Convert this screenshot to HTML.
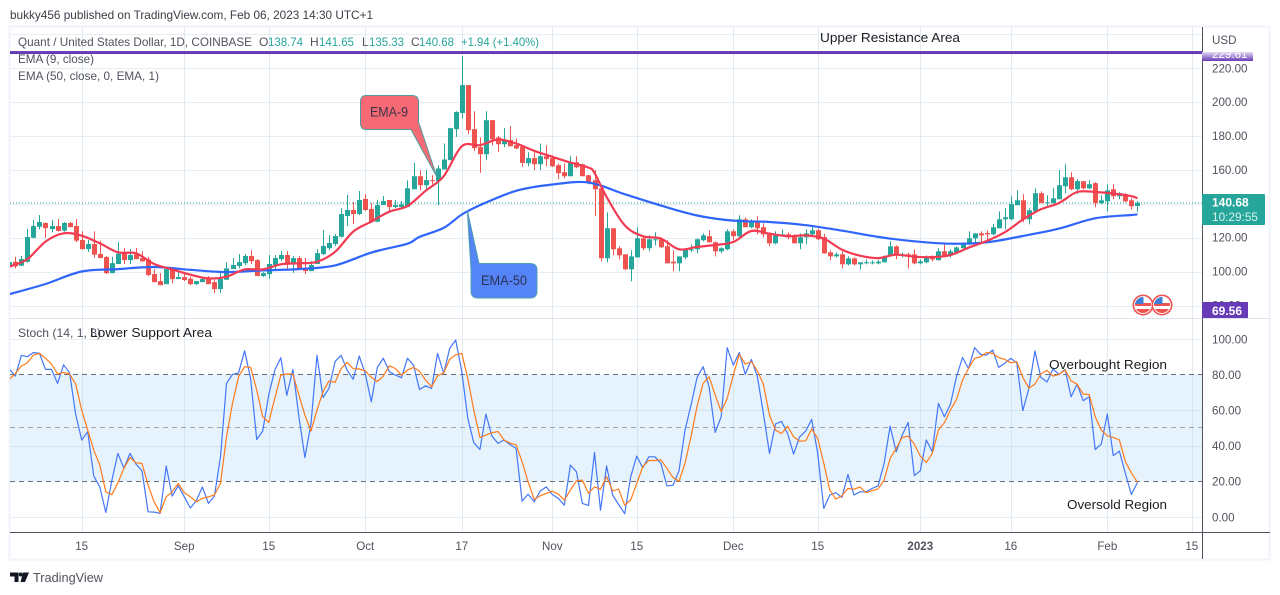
<!DOCTYPE html>
<html lang="en">
<head>
<meta charset="utf-8">
<title>Quant / United States Dollar chart</title>
<style>
html,body{margin:0;padding:0;background:#fff;width:1280px;height:595px;overflow:hidden}
svg{display:block;font-family:"Liberation Sans",sans-serif}
</style>
</head>
<body>
<svg id="chart" xmlns="http://www.w3.org/2000/svg" width="1280" height="595" viewBox="0 0 1280 595">
  <defs>
    <clipPath id="price-clip"><rect x="10" y="27" width="1192" height="291"/></clipPath>
    <clipPath id="stoch-clip"><rect x="10" y="320" width="1192" height="212"/></clipPath>
    <clipPath id="tag-clip"><rect x="1202" y="53" width="52" height="8"/></clipPath>
    <clipPath id="flag-clip-a"><circle cx="1143" cy="305" r="8"/></clipPath>
    <clipPath id="flag-clip-b"><circle cx="1162" cy="305" r="8"/></clipPath>
    <linearGradient id="tag-fade" x1="0" y1="0" x2="0" y2="1">
      <stop offset="0" stop-color="#e4dcf3"/><stop offset="1" stop-color="#673ab7"/>
    </linearGradient>
  </defs>

  <rect width="1280" height="595" fill="#fff"/>
  <text x="10" y="19" font-size="12" fill="#3a3d47" textLength="363" lengthAdjust="spacingAndGlyphs">bukky456 published on TradingView.com, Feb 06, 2023 14:30 UTC+1</text>
  <rect x="9.5" y="26.5" width="1260" height="533" fill="#fff" stroke="#f0f3fa" stroke-width="2"/>

  <g id="grid-layer"></g>
  <rect id="stoch-band" fill="#e6f3fd"/>
  <g id="stoch-grid-layer"></g>
  <line x1="10" x2="1270" y1="318.5" y2="318.5" stroke="#e0e3eb"/>

  <g clip-path="url(#price-clip)">
    <line id="last-price-line" x1="10" x2="1202" stroke="#26a69a" stroke-width="1" stroke-dasharray="1 2"/>
    <g id="candles"></g>
    <path id="ema50-line" fill="none" stroke="#2f65fb" stroke-width="2.2" stroke-linejoin="round"/>
    <path id="ema9-line" fill="none" stroke="#f23b52" stroke-width="2.2" stroke-linejoin="round"/>
    <rect id="resistance-line" x="10" width="1192" height="3" fill="#673ab7"/>
  </g>

  <g clip-path="url(#stoch-clip)">
    <polyline id="stoch-k-line" fill="none" stroke="#4477f8" stroke-width="1.2" stroke-linejoin="round"/>
    <polyline id="stoch-d-line" fill="none" stroke="#ff7a1a" stroke-width="1.2" stroke-linejoin="round"/>
  </g>

  <line x1="1202.5" x2="1202.5" y1="27" y2="559" stroke="#50535e"/>
  <line x1="10" x2="1270" y1="532.5" y2="532.5" stroke="#50535e"/>
  <g id="axis-labels" font-size="11.6" fill="#50535e"></g>

  <g font-size="12" fill="#50535e">
    <text x="18" y="46" textLength="234" lengthAdjust="spacingAndGlyphs">Quant / United States Dollar, 1D, COINBASE</text>
    <text x="259" y="46">O</text>
    <text x="268" y="46" fill="#26a69a" textLength="35" lengthAdjust="spacingAndGlyphs">138.74</text>
    <text x="310" y="46">H</text>
    <text x="319" y="46" fill="#26a69a" textLength="35" lengthAdjust="spacingAndGlyphs">141.65</text>
    <text x="362" y="46">L</text>
    <text x="369" y="46" fill="#26a69a" textLength="35" lengthAdjust="spacingAndGlyphs">135.33</text>
    <text x="411" y="46">C</text>
    <text x="419" y="46" fill="#26a69a" textLength="35" lengthAdjust="spacingAndGlyphs">140.68</text>
    <text x="461" y="46" fill="#26a69a" textLength="78" lengthAdjust="spacingAndGlyphs">+1.94 (+1.40%)</text>
    <text x="18" y="63" textLength="76" lengthAdjust="spacingAndGlyphs">EMA (9, close)</text>
    <text x="18" y="80" textLength="141" lengthAdjust="spacingAndGlyphs">EMA (50, close, 0, EMA, 1)</text>
    <text x="18" y="337" textLength="83" lengthAdjust="spacingAndGlyphs">Stoch (14, 1, 3)</text>
  </g>

  <g font-size="13" fill="#1c1d22">
    <text x="820" y="42" textLength="140" lengthAdjust="spacingAndGlyphs">Upper Resistance Area</text>
    <text x="90" y="337" textLength="122" lengthAdjust="spacingAndGlyphs">Lower Support Area</text>
    <text x="1049" y="369" textLength="118" lengthAdjust="spacingAndGlyphs">Overbought Region</text>
    <text x="1067" y="509" textLength="100" lengthAdjust="spacingAndGlyphs">Oversold Region</text>
  </g>

  <g>
    <path d="M366 95.5H412Q418.5 95.5 418.5 102V122L437 177L411 129.5H366Q360.5 129.5 360.5 123V102Q360.5 95.5 366 95.5Z" fill="#f66a76" stroke="#4f9a9c" stroke-width="1"/>
    <text x="370" y="116.5" font-size="13.5" fill="#3c3346" textLength="38" lengthAdjust="spacingAndGlyphs">EMA-9</text>
  </g>
  <g>
    <path d="M467.3 210.5L479 263.5H530Q537 263.5 537 270V291Q537 298 530 298H478Q471 298 471 291V270Z" fill="#5584f6" stroke="#4f9fae" stroke-width="1"/>
    <text x="481" y="285" font-size="13.5" fill="#2b3358" textLength="46" lengthAdjust="spacingAndGlyphs">EMA-50</text>
  </g>

  <g>
    <circle cx="1143" cy="305" r="9.7" fill="#fff" stroke="#ef5350" stroke-width="1.6"/>
    <g clip-path="url(#flag-clip-a)">
      <rect x="1135" y="297" width="16" height="16" fill="#fff"/>
      <rect x="1135" y="303" width="16" height="3" fill="#ef5350"/>
      <rect x="1135" y="309" width="16" height="4" fill="#ef5350"/>
      <rect x="1135" y="297" width="8.5" height="7" fill="#3f7fd6"/>
    </g>
  </g>
  <g>
    <circle cx="1162" cy="305" r="9.7" fill="#fff" stroke="#ef5350" stroke-width="1.6"/>
    <g clip-path="url(#flag-clip-b)">
      <rect x="1154" y="297" width="16" height="16" fill="#fff"/>
      <rect x="1154" y="303" width="16" height="3" fill="#ef5350"/>
      <rect x="1154" y="309" width="16" height="4" fill="#ef5350"/>
      <rect x="1154" y="297" width="8.5" height="7" fill="#3f7fd6"/>
    </g>
  </g>

  <text x="1212" y="44" font-size="11.6" fill="#50535e">USD</text>
  <rect x="1202" y="52" width="51" height="9" fill="url(#tag-fade)"/>
  <text id="resistance-tag-text" x="1212" y="58" font-size="11.6" fill="#fff" clip-path="url(#tag-clip)"></text>
  <rect x="1202" y="194" width="63" height="31" rx="1" fill="#26a69a"/>
  <text id="last-price-text" x="1212" y="206.5" font-size="12" font-weight="bold" fill="#fff"></text>
  <text x="1212" y="221" font-size="12" fill="#d8f2ef" textLength="46" lengthAdjust="spacingAndGlyphs">10:29:55</text>
  <rect x="1202" y="302" width="46" height="16" fill="#673ab7"/>
  <text id="support-tag-text" x="1212" y="315" font-size="12" font-weight="bold" fill="#fff"></text>

  <g>
    <path d="M10 572.5H18.5V582H14.5V576.5H10ZM23 572.5H29L25 582H20.5Z" fill="#131722"/>
    <circle cx="20.7" cy="574.5" r="2" fill="#131722"/>
    <text x="33" y="582" font-size="13" fill="#50535e" textLength="70" lengthAdjust="spacingAndGlyphs">TradingView</text>
  </g>
</svg>

<script>
const opens = [
102.9,105.8,103.5,105.8,120,126.5,128.7,125.1,126.9,124.2,
128.7,126.9,118.7,113.3,116.3,110.4,108.6,99.1,104.5,111.4,
106.8,110.2,108,107.2,98.6,94.4,92.6,101.5,95.6,96.8,
95.8,92.6,93.8,96.2,93.8,89.7,95.2,101.5,103.3,105,
109.2,106.8,97.4,98.5,103.9,107.4,109.8,104.8,108,101.9,
100.3,104.5,110.4,113.9,116.3,120.6,132.8,136.4,134,142.9,
137,129.5,139.3,142.3,138.1,138.1,138.2,148.6,156.3,151,
154,153.4,160.3,165.8,184.1,193.6,210.1,184.1,173.5,169.3,
189.4,179.2,175.2,177.6,174.6,173.7,164,167,163.4,168.1,
167,162.8,158.7,156.3,164.6,163.4,156.9,154,149.2,107.9,
125.6,113.8,110.2,101.4,108.4,119.7,113.8,118.5,119.1,115,
105.9,104.9,108.4,112.6,113.2,118.5,120.9,117.3,112,113.2,
123.8,120.9,130.9,126.2,129.7,126.2,122.6,116.7,121.4,122,
120.9,116.7,120.3,122,124.4,120.4,111.4,109,110.2,104.3,
107.8,104.3,104.9,104.9,104.9,105.5,109.6,114.9,109.6,110.2,
110.2,104.9,105.5,109,106.7,112,109.6,111.4,113.8,116.1,
119.7,122.6,122.8,122,125.6,130.9,130.9,139.2,142.1,130.9,
135.6,146.3,140.4,140.4,142.7,150.4,155.7,148.6,153.4,149.2,
152.2,140.4,141.5,148.6,144.5,145.7,142.1,138.74];
const highs = [
105.6,108.8,109.2,125.2,130.5,133.4,129,130.5,131,129.3,
129.3,131,123.8,118.7,123.8,118.3,109.2,108.8,117.5,113.9,
113.3,113.9,112.1,108.6,101.5,99.1,102.3,102.3,100.9,98.6,
97,94.4,96.8,97.4,95,100.3,105.4,108,110.4,110.4,
112.7,107.4,99.7,109.8,109.8,112.1,112.1,109.2,109.2,108,
106.2,113.3,124.5,121.6,122.2,137.6,145.2,141.1,147.6,145.8,
140.5,142.3,144.6,142.3,142.3,141.7,153.9,164.2,159.8,159.9,
156.9,162.8,175.6,184.7,194.7,227.2,210.1,194.7,179.2,194.7,
189.4,180,184.7,185.9,178.6,174,170.5,170.5,175.6,174.6,
168.7,163.8,163.8,168.1,168.1,163.8,157.1,159.9,149.2,135,
125.6,115,110.2,112.6,126.2,121.4,121.4,123.2,120.3,118.5,
112.6,109,113.2,116.1,119.7,122.6,124.4,117.9,114.4,125,
125,133.3,132.1,130.9,132.7,128.5,123.2,123.8,125,123.2,
122,122.6,125,126.4,125.4,122.4,112.6,111.4,112,109,
108.4,105.5,107.2,106.7,107,109.6,117.9,115.5,111.4,111.2,
113.2,107.3,109.6,109.6,113.8,116.1,113.2,114.9,117.3,123.8,
122.6,123.8,124.4,128,135.6,137.4,144.5,148,145.7,137.4,
149.2,147.4,145.1,149.2,159.9,163.4,158.7,154.5,153.4,154,
152.8,145.1,151.6,151.6,146.9,146.3,143.3,141.65];
const lows = [
102.5,101.9,103.3,105.3,119.6,125,120,123.2,123.6,123.6,
126.1,117.3,112.9,111.6,108.2,108,98.6,99.1,104.5,104.5,
104.5,107.2,105.8,97.4,93.6,92,92.6,93.2,95.6,94.4,
92,92,93.8,92.6,87.3,87.3,95,101.5,101.9,103.9,
104.5,97.4,96.8,95.6,101.5,106.2,100.9,99.3,100.9,98.5,
100.3,104.5,109.8,112.7,115.1,120.2,126.9,128.1,133.4,135.8,
128.7,129.1,139.3,135.2,137.5,137.5,138.2,148.6,148,148,
151.6,139.2,160.3,165.8,179.6,190.4,181.1,171.1,158.3,165.8,
174.6,170.5,173.5,174,172.3,161.8,162.2,159.9,159.9,162.2,
161.8,154.6,155.1,156.3,161,156.3,151.6,132.7,106.1,105.5,
109.6,107.3,100.8,94.3,108.4,112.6,112,115.5,113.8,104.9,
100.2,100.2,107.3,111.4,110.8,117.9,117.3,109,110.8,112.6,
118.5,120.3,126.2,125.6,122,120.3,115,116.1,120.9,119.1,
116.7,113.2,116.1,121.4,118.5,110.6,106.7,108.4,101.9,103.7,
103.7,101.3,104.3,104.3,104.3,105.5,109,107.3,108.4,101.9,
104.3,104.3,104.9,106.1,106.7,108.4,108.4,110.2,113.8,115.5,
116.1,116.7,118.5,121.4,125.6,125,130.3,139.2,129.1,127.9,
135,140.4,138,140.4,142.7,146.3,148,145.7,148.6,148.6,
138,139.8,135.6,142.7,142.7,140.9,136.8,135.33];
const closes = [
105.6,103.1,107.4,120.4,126.9,129.3,125.7,126.9,124,128.7,
126.3,118.3,113.3,116.3,110,108,99.1,105,110.6,106.8,
109.8,107.4,106,98,93.8,92,101.5,95.6,96.8,95,
92.6,94.4,95.6,92.6,89.7,95.8,101.9,103.9,105.6,109.2,
106.2,97.4,99.1,104.5,108,109.8,104.5,108,100.9,100.3,
103.9,110.9,115.1,116.9,121,134,136.4,134,142.3,136.4,
129.3,139.3,141.7,138.1,139.3,139.7,149.2,156.3,151,154,
153.4,160.9,166.2,184.7,194.2,210.1,183.5,172.9,169.3,189.4,
178.2,175.2,177.6,174,172.7,164.2,167,163.4,168.1,166.4,
162.2,158.1,156.3,164.6,161.6,156.3,152.8,148.6,107.9,125.6,
113.2,109.6,101.4,109,119.7,113.8,119.1,119.1,114.4,104.9,
104.9,109,113.2,113.2,119.1,121.4,117.3,112,113.8,123.8,
120.9,130.9,126.2,129.7,125.6,122,116.7,121.4,122,120.3,
116.7,120.3,122.6,124.4,119.1,110.8,109,110.2,104.3,107.8,
104.3,105.5,105.5,105.5,105.9,109,114.9,109.6,110.2,109.6,
104.9,106.1,108.4,107.2,112,109.6,112,114.3,116.7,119.7,
122.6,121.4,122,126.2,130.9,132.1,139.8,142.1,130.9,136.2,
146.3,140.4,140.9,143.3,151,155.7,148.6,153.4,149.2,151.6,
140.4,142.1,148,144.5,146.3,141.5,138.6,140.68];

const ema9Bars = [0,3,6,9,12,15,18,21,24,27,30,33,36,39,42,45,48,51,54,57,60,63,66,69,72,75,78,81,84,87,90,93,96,97,99,102,105,108,111,114,117,120,123,126,129,132,135,138,141,144,147,150,153,156,159,162,165,168,171,174,177,180,183,186,187];
const ema9Values = [102.9,107.4,117.7,122.6,121.2,116.7,111.4,110.8,104.5,101.3,98.2,96,97,101.3,101.3,104.3,104.9,105.8,111.7,123.6,129.5,135.4,138.7,147.7,156.3,174,174.6,178,175.6,171.3,167.8,164.4,161.4,158.3,144.1,127.4,120.9,119.5,113.2,114.6,115.7,117.5,124,122.4,120.9,121.4,119.5,113,109.4,108,110,108.8,108.6,109.8,114.1,118.1,123.2,130.7,136.8,140.5,147,147,146.1,144.5,143.3];
const ema50Bars = [0,6,12,18,24,30,36,42,48,54,60,66,68,72,75,78,84,90,96,102,108,114,120,126,132,138,144,150,156,162,168,174,180,186,187];
const ema50Values = [86.7,92.7,100.1,101.5,102.7,101.1,99.7,100.7,101.5,103.7,111.2,116.5,120.5,125.8,133.7,139.2,147.7,151.4,152.6,145.7,139,133.1,130.1,129.3,127.4,124.2,120.5,117.9,116.5,117.3,121,125.4,131.5,133.4,133.9];

const stochK = [
83.3,79.3,91,90.2,92.6,92.1,83.1,83.1,75.2,85.7,
81.2,57.8,43.4,48.1,23.1,17.1,2.7,20.9,35.9,27.5,
35.9,29.9,26.1,3.1,2.9,2.2,28.8,11.9,17.7,11.5,
5.2,9.3,17.1,7.8,11.9,34,75.2,80.3,81.2,93.6,
78,43.7,48.4,68.7,82.7,89.6,68.5,83.1,56.5,33.6,
52.7,91,67.3,72.4,87.6,91,82.7,77.5,90.6,80.8,
64.9,84.2,89.3,81.8,79.9,78.4,89.3,85.5,71.8,73.9,
72.4,92.1,80.8,94.9,99.6,81.8,55.6,41.9,38.1,58,
45.6,41.5,43.4,40.9,38.7,9.1,13,8.7,14.7,17.1,
12.8,10.6,6.8,29.3,25.6,7.8,6.7,36.4,4,28.8,
12.5,7.2,2,22.8,34.4,27.8,34,34,30.3,17.7,
17.9,26.1,49,63,78.6,84.6,73.3,47.7,56.5,95.3,
85.5,92.6,80.3,88.7,79,58.3,35.9,52.4,53.9,47.1,
35.5,45.2,48.4,55,35.9,5,12.5,13.8,11.2,24.1,
12.5,14.3,14.3,16.2,17.7,30.3,51.2,36.8,46.2,53.3,
23.5,26.1,43.4,36.8,64,56.5,63.4,79,89.8,83.6,
95.3,91.5,91.1,94,84.2,86.5,89.3,86.8,59.9,72.4,
93.4,78.6,76,83.3,80.3,83.1,67.7,74.7,65.5,67.7,
38.1,41.1,58,34.6,37.2,24.6,12.8,19.6];
const stochD = [
77.5,80.8,85,86.8,91.1,92.1,89.3,86.1,80.5,81.4,
80.5,74.8,60.2,49,37.7,29.3,14.3,12.7,19.4,27.5,
33.6,30.6,30.3,18.1,8.7,2.5,11.5,14.3,19,13.8,
11.5,8.7,10.6,11.5,12.5,19,45.2,64,79,84.6,
84.2,71.5,56.5,53.3,66.8,79.9,80.5,80.5,68.7,57.4,
48.4,60.2,70.5,76.7,75.8,83.6,87,83.5,83.3,82.3,
78.6,76.3,79.3,85.1,83.6,79.9,82.7,84.2,82.1,77.1,
73.3,79.5,81.2,88.7,91.3,92.1,78,60.2,44.9,46.2,
47.5,48.2,43.4,41.7,40.7,31.2,20,10,12.1,13.4,
14.7,13,9.7,15.3,20.5,20.9,13.4,17.1,15.8,22.8,
14.9,15.8,6.8,9.7,19,28.4,31.9,31.9,32.3,27.5,
22.4,20.3,30.3,45.2,62.5,75.2,79,68.7,59.3,66.8,
79.9,91.5,86.1,87.4,82.3,74.8,57.4,49,47.1,51.1,
45.2,42.8,43,49.6,44.3,30.3,15.3,10.2,12.1,16.2,
15.8,17,13.8,14.9,16,20.9,33.1,38.7,44.9,45.6,
41.1,34.4,30.8,35.9,49,53.1,60.2,66.2,77.1,83.6,
89.3,90.2,92.6,92.1,89.8,88.7,86.8,87.4,78.6,72.6,
74.8,80.5,82.5,79.3,80.3,82.7,76.7,74.8,69.2,69,
56.5,49,45.8,44.9,43.4,31.2,25,19.6];

const priceGridValues = [240,220,200,180,160,140,120,100,80];
const priceTickLabels = [220,200,180,160,120,100];
const stochGridValues = [100,60,40,0];
const stochTickLabels = [100,80,60,40,20,0];
const stochBandLevels = [80,50,20];
const timeTickBars = [12,29,43,59,75,90,104,120,134,151,166,182,196];
const timeTickLabels = ['15','Sep','15','Oct','17','Nov','15','Dec','15','2023','16','Feb','15'];
const resistanceLevel = 229.61;
const supportLevel = 69.56;
const lastPrice = 140.68;

const NS = 'http://www.w3.org/2000/svg';
function xOf(bar) { return 9.3 + bar * 6.033; }
function yPrice(p) { return 305.5 - (p - 80) * 1.694; }
function yStoch(v) { return 517.3 - v * 1.78; }
function make(tag, attrs, parent) {
  const el = document.createElementNS(NS, tag);
  for (const k in attrs) el.setAttribute(k, attrs[k]);
  parent.appendChild(el);
  return el;
}
function crisp(y) { return Math.round(y) + 0.5; }

const gridLayer = document.getElementById('grid-layer');
priceGridValues.forEach(function (p) {
  const y = crisp(yPrice(p));
  const el = make('line', {x1: 10, x2: 1202, y1: y, y2: y, stroke: '#e6edf3'}, gridLayer);
  
  
});
timeTickBars.forEach(function (b) {
  const x = crisp(xOf(b));
  const el = make('line', {x1: x, x2: x, y1: 27, y2: 532, stroke: '#e3ebf2'}, gridLayer);
  
  
});

const band = document.getElementById('stoch-band');
band.setAttribute('x', 10);
band.setAttribute('width', 1192);
band.setAttribute('y', yStoch(stochBandLevels[0]) - 0.5);
band.setAttribute('height', yStoch(stochBandLevels[2]) - yStoch(stochBandLevels[0]));

const stochGrid = document.getElementById('stoch-grid-layer');
timeTickBars.forEach(function (b) {
  const x = crisp(xOf(b));
  const el = make('line', {x1: x, x2: x, y1: 374, y2: 481, stroke: '#cfe3f2'}, stochGrid);
  
  
});
stochGridValues.forEach(function (v) {
  const y = crisp(yStoch(v));
  const inBand = v < stochBandLevels[0] && v > stochBandLevels[2];
  const el = make('line', {x1: 10, x2: 1202, y1: y, y2: y, stroke: inBand ? '#cfe3f2' : '#e6edf3'}, stochGrid);
  
  
});
stochBandLevels.forEach(function (v, i) {
  const y = Math.round(yStoch(v)) - 0.5;
  const el = make('line', {x1: 10, x2: 1202, y1: y, y2: y, stroke: i === 1 ? '#a4a7b0' : '#6b6e79', 'stroke-dasharray': '5 4'}, stochGrid);
  
  
});

const lastLine = document.getElementById('last-price-line');
lastLine.setAttribute('y1', crisp(yPrice(lastPrice)) - 0.5);
lastLine.setAttribute('y2', crisp(yPrice(lastPrice)) - 0.5);
document.getElementById('resistance-line').setAttribute('y', yPrice(resistanceLevel) - 1);

const candleLayer = document.getElementById('candles');
opens.forEach(function (o, i) {
  const c = closes[i];
  const up = c >= o;
  const color = up ? '#26a69a' : '#ef5350';
  const x = Math.round(xOf(i));
  const g = make('g', {fill: color}, candleLayer);
  
  
  const wickTop = yPrice(highs[i]);
  const wickBottom = yPrice(lows[i]);
  make('rect', {x: x, width: 1, y: wickTop, height: Math.max(1, wickBottom - wickTop)}, g);
  const bodyTop = yPrice(Math.max(o, c));
  const bodyBottom = yPrice(Math.min(o, c));
  make('rect', {x: x - 2, width: 5, y: bodyTop, height: Math.max(1, bodyBottom - bodyTop)}, g);
});

function pointsFrom(bars, values, yFn) {
  return values.map(function (v, i) { return xOf(bars[i]).toFixed(1) + ',' + yFn(v).toFixed(1); }).join(' ');
}
function smoothPath(bars, values, yFn) {
  const pts = values.map(function (v, i) { return [xOf(bars[i]), yFn(v)]; });
  let d = 'M' + pts[0][0].toFixed(1) + ' ' + pts[0][1].toFixed(1);
  for (let i = 0; i < pts.length - 1; i++) {
    const p0 = pts[Math.max(0, i - 1)];
    const p1 = pts[i];
    const p2 = pts[i + 1];
    const p3 = pts[Math.min(pts.length - 1, i + 2)];
    const c1x = p1[0] + (p2[0] - p0[0]) / 6;
    const c1y = p1[1] + (p2[1] - p0[1]) / 6;
    const c2x = p2[0] - (p3[0] - p1[0]) / 6;
    const c2y = p2[1] - (p3[1] - p1[1]) / 6;
    d += 'C' + c1x.toFixed(1) + ' ' + c1y.toFixed(1) + ' ' + c2x.toFixed(1) + ' ' + c2y.toFixed(1) + ' ' + p2[0].toFixed(1) + ' ' + p2[1].toFixed(1);
  }
  return d;
}
const allBars = stochK.map(function (_, i) { return i; });
document.getElementById('ema9-line').setAttribute('d', smoothPath(ema9Bars, ema9Values, yPrice));
document.getElementById('ema50-line').setAttribute('d', smoothPath(ema50Bars, ema50Values, yPrice));
document.getElementById('stoch-k-line').setAttribute('points', pointsFrom(allBars, stochK, yStoch));
document.getElementById('stoch-d-line').setAttribute('points', pointsFrom(allBars, stochD, yStoch));

const labels = document.getElementById('axis-labels');
priceTickLabels.forEach(function (p) {
  const el = make('text', {x: 1212, y: yPrice(p) + 4}, labels);
  
  
  el.textContent = p.toFixed(2);
});
const peek = make('text', {x: 1212, y: yPrice(80) + 4}, labels);


peek.textContent = (80).toFixed(2);
stochTickLabels.forEach(function (v) {
  const el = make('text', {x: 1212, y: yStoch(v) + 4}, labels);
  
  
  el.textContent = v.toFixed(2);
});
timeTickBars.forEach(function (b, i) {
  const el = make('text', {x: xOf(b), y: 550, 'text-anchor': 'middle'}, labels);
  
  
  if (timeTickLabels[i] === '2023') el.setAttribute('font-weight', 'bold');
  el.textContent = timeTickLabels[i];
});
document.getElementById('resistance-tag-text').textContent = resistanceLevel.toFixed(2);
document.getElementById('last-price-text').textContent = lastPrice.toFixed(2);
document.getElementById('support-tag-text').textContent = supportLevel.toFixed(2);
</script>
</body>
</html>
